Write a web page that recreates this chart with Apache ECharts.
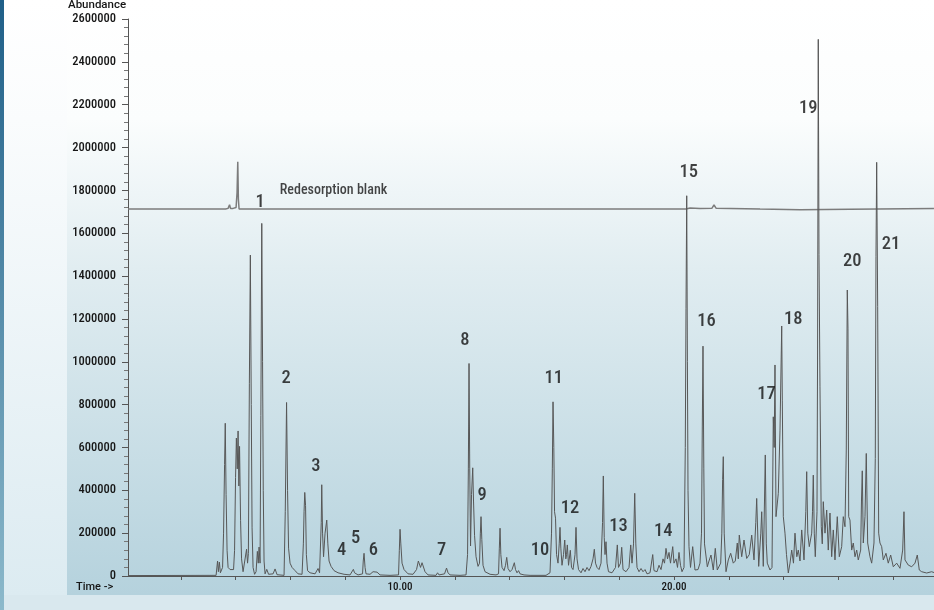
<!DOCTYPE html>
<html>
<head>
<meta charset="utf-8">
<script src="https://cdn.jsdelivr.net/npm/echarts@6/dist/echarts.min.js"></script>
<style>
  html, body { margin: 0; padding: 0; }
  #chart { width: 934px; height: 610px; }
</style>
</head>
<body>
<div id="chart"></div>
<script>
// retention time (min) / abundance of the sample run
const mainTime = [
  0.07, 3.285, 3.339, 3.369, 3.405, 3.442, 3.522, 3.558, 3.595, 3.620, 3.650, 3.686, 3.723, 3.796, 3.869, 3.923,
  3.960, 3.996, 4.026, 4.058, 4.088, 4.117, 4.142, 4.179, 4.215, 4.270, 4.343, 4.398, 4.434, 4.464, 4.500, 4.536,
  4.569, 4.599, 4.635, 4.690, 4.745, 4.792, 4.825, 4.854, 4.891, 4.920, 4.953, 4.982, 5.007, 5.036, 5.073, 5.135,
  5.201, 5.365, 5.438, 5.511, 5.766, 5.810, 5.858, 5.894, 5.931, 5.985, 6.058, 6.168, 6.277, 6.423, 6.471, 6.496,
  6.522, 6.551, 6.580, 6.624, 6.715, 6.898, 7.007, 7.062, 7.099, 7.124, 7.142, 7.172, 7.208, 7.263, 7.325, 7.365,
  7.409, 7.482, 7.591, 7.737, 7.956, 8.175, 8.248, 8.296, 8.339, 8.394, 8.467, 8.631, 8.657, 8.686, 8.723, 8.759,
  8.905, 9.015, 9.088, 9.161, 9.270, 9.635, 9.945, 9.974, 10.000, 10.029, 10.073, 10.146, 10.292, 10.474, 10.602, 10.668,
  10.748, 10.803, 10.858, 10.912, 11.022, 11.314, 11.369, 11.423, 11.624, 11.697, 11.752, 11.825, 12.190, 12.409, 12.464, 12.493,
  12.518, 12.544, 12.573, 12.609, 12.653, 12.682, 12.719, 12.774, 12.847, 12.901, 12.931, 12.956, 12.985, 13.029, 13.102, 13.285,
  13.504, 13.595, 13.624, 13.650, 13.679, 13.723, 13.796, 13.850, 13.894, 13.942, 14.015, 14.088, 14.172, 14.215, 14.270, 14.325,
  14.380, 14.453, 14.526, 14.745, 15.328, 15.401, 15.474, 15.529, 15.558, 15.584, 15.613, 15.639, 15.675, 15.712, 15.766, 15.810,
  15.839, 15.869, 15.912, 15.967, 16.011, 16.051, 16.077, 16.106, 16.150, 16.215, 16.259, 16.314, 16.387, 16.423, 16.460, 16.515,
  16.606, 16.679, 16.752, 16.825, 16.898, 16.971, 17.044, 17.091, 17.135, 17.190, 17.263, 17.336, 17.391, 17.420, 17.453, 17.482,
  17.518, 17.555, 17.609, 17.737, 17.865, 17.931, 17.974, 18.047, 18.091, 18.139, 18.248, 18.358, 18.420, 18.467, 18.522, 18.566,
  18.606, 18.650, 18.723, 18.796, 18.869, 18.942, 19.015, 19.124, 19.223, 19.270, 19.380, 19.453, 19.526, 19.599, 19.653, 19.708,
  19.763, 19.818, 19.872, 19.953, 20.000, 20.073, 20.128, 20.182, 20.237, 20.292, 20.365, 20.412, 20.438, 20.464, 20.489, 20.511,
  20.547, 20.602, 20.682, 20.766, 20.876, 20.949, 21.004, 21.033, 21.058, 21.088, 21.113, 21.216, 21.277, 21.350, 21.434, 21.507,
  21.580, 21.704, 21.745, 21.774, 21.799, 21.832, 21.898, 21.982, 22.069, 22.164, 22.237, 22.310, 22.347, 22.383, 22.471, 22.555,
  22.653, 22.748, 22.836, 22.920, 22.985, 23.018, 23.091, 23.168, 23.201, 23.259, 23.303, 23.332, 23.369, 23.405, 23.504, 23.577,
  23.624, 23.657, 23.686, 23.723, 23.807, 23.869, 23.931, 23.953, 23.990, 24.051, 24.106, 24.172, 24.234, 24.296, 24.361, 24.416,
  24.482, 24.536, 24.599, 24.661, 24.745, 24.810, 24.843, 24.883, 24.938, 25.026, 25.055, 25.084, 25.120, 25.157, 25.219, 25.241,
  25.266, 25.292, 25.328, 25.376, 25.412, 25.449, 25.511, 25.573, 25.631, 25.693, 25.755, 25.814, 25.876, 25.960, 26.033, 26.120,
  26.179, 26.241, 26.288, 26.325, 26.350, 26.376, 26.423, 26.485, 26.544, 26.606, 26.668, 26.726, 26.814, 26.843, 26.872, 26.909,
  26.971, 27.018, 27.069, 27.153, 27.215, 27.299, 27.347, 27.372, 27.398, 27.434, 27.471, 27.518, 27.580, 27.639, 27.737, 27.821,
  27.909, 28.004, 28.128, 28.248, 28.347, 28.394, 28.431, 28.551, 28.675, 28.796, 28.880, 28.953, 29.040, 29.223, 29.405, 29.489
];
const mainAbund = [
  2000, 3000, 70000, 20000, 65000, 15000, 40000, 200000, 520000, 713000, 380000, 120000, 40000, 30000, 35000, 30000,
  120000, 460000, 644000, 500000, 677000, 420000, 605000, 260000, 80000, 20000, 15000, 125000, 60000, 105000, 900000, 1498000,
  800000, 225000, 40000, 8000, 20000, 115000, 60000, 135000, 60000, 750000, 1646000, 1000000, 400000, 70000, 10000, 31000,
  8000, 10000, 33000, 6000, 3000, 300000, 810000, 400000, 130000, 60000, 40000, 25000, 10000, 8000, 150000, 300000,
  390000, 330000, 100000, 25000, 15000, 10000, 35000, 15000, 20000, 250000, 426000, 200000, 90000, 200000, 261000, 150000,
  70000, 45000, 25000, 15000, 8000, 5000, 10000, 31000, 15000, 18000, 5000, 10000, 70000, 106000, 40000, 10000,
  8000, 20000, 23000, 18000, 5000, 3000, 5000, 120000, 218000, 150000, 60000, 30000, 10000, 8000, 30000, 70000,
  40000, 62000, 55000, 20000, 5000, 3000, 15000, 5000, 10000, 37000, 15000, 5000, 3000, 5000, 100000, 500000,
  992000, 500000, 140000, 380000, 505000, 350000, 190000, 90000, 45000, 60000, 200000, 277000, 170000, 50000, 20000, 8000,
  5000, 10000, 130000, 223000, 100000, 40000, 25000, 50000, 87000, 35000, 20000, 30000, 62000, 30000, 15000, 25000,
  10000, 18000, 5000, 3000, 3000, 10000, 15000, 200000, 500000, 813000, 600000, 300000, 270000, 100000, 60000, 150000,
  227000, 130000, 50000, 100000, 168000, 80000, 100000, 145000, 50000, 120000, 40000, 30000, 100000, 227000, 80000, 30000,
  15000, 35000, 20000, 40000, 25000, 45000, 80000, 125000, 60000, 40000, 30000, 60000, 250000, 467000, 180000, 100000,
  160000, 60000, 20000, 15000, 40000, 145000, 40000, 60000, 134000, 30000, 20000, 40000, 145000, 60000, 150000, 386000,
  150000, 40000, 20000, 35000, 20000, 30000, 10000, 15000, 100000, 25000, 20000, 50000, 30000, 80000, 60000, 129000,
  80000, 110000, 60000, 137000, 60000, 80000, 40000, 110000, 50000, 20000, 40000, 600000, 1250000, 1775000, 1000000, 400000,
  137000, 40000, 137000, 28000, 30000, 60000, 200000, 700000, 1073000, 500000, 150000, 43000, 70000, 98000, 28000, 129000,
  28000, 60000, 200000, 450000, 557000, 200000, 20000, 75000, 106000, 60000, 70000, 154000, 80000, 191000, 90000, 168000,
  82000, 100000, 191000, 75000, 250000, 362000, 45000, 200000, 300000, 45000, 350000, 565000, 150000, 60000, 28000, 40000,
  743000, 600000, 985000, 277000, 386000, 681000, 1167000, 821000, 277000, 200000, 100000, 14000, 60000, 121000, 60000, 200000,
  90000, 121000, 70000, 215000, 75000, 300000, 487000, 200000, 137000, 200000, 300000, 471000, 200000, 90000, 300000, 1055000,
  2505000, 1500000, 883000, 230000, 150000, 347000, 200000, 308000, 121000, 294000, 90000, 215000, 75000, 277000, 90000, 137000,
  277000, 230000, 588000, 1335000, 1157000, 277000, 261000, 121000, 154000, 90000, 121000, 75000, 121000, 350000, 491000, 154000,
  277000, 572000, 154000, 90000, 60000, 154000, 549000, 1490000, 1931000, 1257000, 200000, 154000, 137000, 75000, 106000, 60000,
  98000, 43000, 60000, 36000, 121000, 300000, 75000, 51000, 43000, 60000, 98000, 28000, 20000, 14000, 20000, 16000
];

// redesorption blank trace (plotted with its own offset baseline)
const blankTime = [0.07, 3.504, 3.577, 3.631, 3.723, 3.777, 3.814, 3.905, 4.015, 4.051, 4.077, 4.099, 4.124,
  20.438, 20.584, 20.949, 21.387, 21.460, 21.533, 23.139, 24.599, 26.423, 29.489];
const blankAbund = [1713000, 1713000, 1722000, 1713000, 1716000, 1733000, 1715000, 1716000, 1720000, 1790000, 1934000, 1760000, 1713000,
  1713000, 1718000, 1716000, 1717000, 1732000, 1717000, 1713000, 1710000, 1712000, 1715000];

// peak numbers and where they sit
const peakNo = ['1', '2', '3', '4', '5', '6', '7', '8', '9', '10', '11', '12', '13', '14', '15', '16', '17', '18', '19', '20', '21'];
const peakLabelTime = [4.89, 5.84, 6.93, 7.87, 8.38, 9.03, 11.52, 12.37, 13.0, 15.11, 15.61, 16.2, 17.97, 19.61, 20.54, 21.19, 23.38, 24.35, 24.90, 26.51, 27.92];
const peakLabelAbund = [1745000, 922000, 513000, 118000, 176000, 118000, 121000, 1098000, 378000, 121000, 922000, 316000, 233000, 210000, 1882000, 1187000, 848000, 1198000, 2183000, 1470000, 1548000];

const blankLabel = 'Redesorption blank';
const blankLabelPos = [7.57, 1798000];

const timeTicks = [2, 4, 6, 8, 10, 12, 14, 16, 18, 20, 22, 24, 26, 28];
const timeLabels = [10, 20];

const FONT = "Roboto, 'DejaVu Sans Condensed', sans-serif";
const TEXT = '#161616';

const chart = echarts.init(document.getElementById('chart'), null, { renderer: 'canvas' });

const option = {
  animation: false,
  backgroundColor: '#d9e8ee',
  graphic: [
    {
      type: 'rect', z: -100, silent: true,
      shape: { x: 0, y: 0, width: 67, height: 595 },
      style: { fill: new echarts.graphic.LinearGradient(0, 0, 0, 1, [
        { offset: 0, color: '#ffffff' }, { offset: 0.2, color: '#fafcfd' }, { offset: 1, color: '#dcebf1' }
      ]) }
    },
    {
      type: 'rect', z: -100, silent: true,
      shape: { x: 67, y: 0, width: 867, height: 595 },
      style: { fill: new echarts.graphic.LinearGradient(0, 0, 0, 1, [
        { offset: 0, color: '#ffffff' }, { offset: 0.2, color: '#fbfdfd' },
        { offset: 0.45, color: '#e1edf1' }, { offset: 1, color: '#b5d2dd' }
      ]) }
    },
    {
      type: 'rect', z: -99, silent: true,
      shape: { x: 0, y: 0, width: 4, height: 610 },
      style: { fill: new echarts.graphic.LinearGradient(0, 0, 0, 1, [
        { offset: 0, color: '#1f5f88' }, { offset: 1, color: '#8cb9cb' }
      ]) }
    },
    {
      type: 'text', left: 68, top: -1,
      style: { text: 'Abundance', font: "500 11.5px " + FONT, fill: TEXT }
    },
    {
      type: 'text', left: 76, top: 582,
      style: { text: 'Time ->', font: "500 11px " + FONT, fill: TEXT }
    }
  ],
  grid: { left: 128, right: 0, top: 19, bottom: 34, containLabel: false },
  xAxis: {
    type: 'value',
    min: 0.07,
    max: 29.49,
    splitLine: { show: false },
    axisLine: { lineStyle: { color: '#555', width: 1 } },
    axisTick: { show: true, length: 4, customValues: timeTicks, lineStyle: { color: '#555' } },
    axisLabel: {
      customValues: timeLabels,
      margin: 6,
      fontSize: 11,
      fontStyle: 'condensed',
      fontWeight: 500,
      fontFamily: FONT,
      color: TEXT,
      formatter: v => Number(v).toFixed(2)
    }
  },
  yAxis: {
    type: 'value',
    min: 0,
    max: 2600000,
    interval: 200000,
    splitLine: { show: false },
    axisLine: { show: true, lineStyle: { color: '#555', width: 1 } },
    axisTick: { show: true, length: 6, lineStyle: { color: '#555' } },
    minorTick: { show: true, splitNumber: 5, length: 4, lineStyle: { color: '#777' } },
    axisLabel: {
      margin: 12, fontSize: 12.5, fontStyle: 'semi-condensed', fontWeight: 500,
      fontFamily: FONT, color: TEXT,
      formatter: v => String(v)
    }
  },
  series: [
    {
      name: 'blank',
      type: 'line',
      data: blankTime.map((t, i) => [t, blankAbund[i]]),
      showSymbol: false,
      lineStyle: { color: '#7c7c7c', width: 1.5 },
      z: 2
    },
    {
      name: 'sample',
      type: 'line',
      data: mainTime.map((t, i) => [t, mainAbund[i]]),
      showSymbol: false,
      lineStyle: { color: '#575757', width: 1 },
      z: 3
    },
    {
      name: 'peaks',
      type: 'scatter',
      symbolSize: 0,
      data: peakNo.map((n, i) => [peakLabelTime[i], peakLabelAbund[i], n]),
      label: {
        show: true, position: 'inside',
        formatter: p => p.data[2],
        fontSize: 18.5, fontStyle: 'semi-condensed', fontWeight: 500, fontFamily: FONT, color: '#111'
      },
      z: 5
    },
    {
      name: 'blankName',
      type: 'scatter',
      symbolSize: 0,
      data: [[blankLabelPos[0], blankLabelPos[1], blankLabel]],
      label: {
        show: true, position: 'inside',
        formatter: p => p.data[2],
        fontSize: 14, fontStyle: 'condensed', fontWeight: 500, fontFamily: FONT, color: TEXT
      },
      z: 5
    }
  ]
};

chart.setOption(option);
</script>
</body>
</html>
